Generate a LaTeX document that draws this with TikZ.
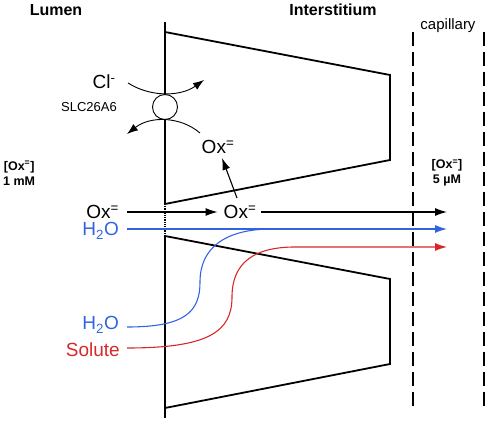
\documentclass[tikz,border=0pt]{standalone}
\usepackage{fontspec}
\setmainfont{Liberation Sans}
\usepackage{xcolor}
\usepackage{tikz}
\usetikzlibrary{arrows.meta, positioning, calc}
\definecolor{waterblue}{RGB}{50, 100, 225}
\definecolor{soluter}{RGB}{215, 40, 40}

\begin{document}
\begin{tikzpicture}[x=1pt, y=-1pt,
    wall/.style={line width=1.8pt},
    arr/.style={line width=1.1pt, -{Latex[length=12pt, width=8pt]}},
    swap/.style={line width=0.9pt, -{Latex[length=11pt, width=8pt]}},
    big/.style={font=\fontsize{19}{21}\selectfont, inner sep=0pt},
    head/.style={font=\fontsize{16}{18}\selectfont\bfseries, inner sep=0pt},
    conc/.style={font=\fontsize{12.5}{15}\selectfont\bfseries, align=center, inner sep=0pt}]
    \useasboundingbox (0,0) rectangle (488,422);

    % Headings
    \node[head] (lumen) at (56,10) {Lumen};
    \node[head] (inter) at (333,10) {Interstitium};
    \node[font=\fontsize{15}{17}\selectfont, inner sep=0pt] (cap) at (448,26) {capillary};
    \node[conc, anchor=west] (cl1) at (3,173) {[Ox\textsuperscript{=}]\\1 mM};
    \node[conc] (cl5) at (447,173) {[Ox\textsuperscript{=}]\\5 µM};

    % Membrane with paracellular gap
    \draw[wall] (165,22) -- (165,204);
    \draw[wall] (165,236) -- (165,418);
    \draw[line width=1.2pt, densely dotted] (165,204) -- (165,236);

    % Cells
    \draw[wall, line join=miter] (165,32) -- (390,75) -- (390,160) -- (165,204);
    \draw[wall, line join=miter] (165,236) -- (390,279) -- (390,364) -- (165,408);

    % Capillary walls
    \draw[wall, dash pattern=on 14pt off 6pt] (413,32) -- (413,412);
    \draw[wall, dash pattern=on 14pt off 6pt] (484,32) -- (484,412);

    % SLC26A6 exchanger
    \node[draw, circle, line width=0.9pt, fill=white, minimum size=25pt, inner sep=0pt] (slc) at (165,107) {};
    \node[big] (cl) at (104,82) {Cl\textsuperscript{-}};
    \node[font=\fontsize{13}{15}\selectfont, inner sep=0pt] (slcl) at (89,107) {SLC26A6};
    \node[big] (oxt) at (218,147) {Ox\textsuperscript{=}};
    \coordinate (clin) at (128,83);
    \coordinate (clout) at (204,80);
    \coordinate (oxin) at (200,133);
    \coordinate (oxout) at (127,134);
    \draw[swap] (clin) .. controls (150,97) and (180,97) .. (clout);
    \draw[swap] (oxin) .. controls (180,116) and (150,116) .. (oxout);

    % Paracellular flows
    \node[big, anchor=east] (oxl) at (119,212) {Ox\textsuperscript{=}};
    \node[big] (oxm) at (240,212) {Ox\textsuperscript{=}};
    \node[big, anchor=east, text=waterblue] (h2ot) at (119,231) {H\textsubscript{2}O};
    \node[big, anchor=east, text=waterblue] (h2ob) at (119,325) {H\textsubscript{2}O};
    \node[big, anchor=east, text=soluter] (sol) at (120,350) {Solute};
    \coordinate (oxend) at (447,212);
    \coordinate (blueend) at (447,229);
    \coordinate (redend) at (447,247);
    \coordinate (bluejoin) at (272,229);
    \coordinate (oxup) at (237,198);

    \draw[arr, shorten >=6pt] ([xshift=8pt]oxl.east |- 0,212) -- (oxm.west |- 0,212);
    \draw[arr] ([xshift=5pt]oxm.east |- 0,212) -- (oxend);
    \draw[arr] (oxup) -- ([xshift=4pt, yshift=-4pt]oxt.south);
    \draw[arr, waterblue] ([xshift=8pt]h2ot.east |- 0,229) -- (blueend);
    \draw[line width=1.1pt, waterblue] ([xshift=8pt]h2ob.east |- 0,327)
        .. controls (185,327) and (200,312) .. (200,282)
        .. controls (200,248) and (225,229) .. (bluejoin);
    \draw[arr, soluter] ([xshift=7pt]sol.east |- 0,348)
        .. controls (208,348) and (232,332) .. (232,297)
        .. controls (232,262) and (255,247) .. (295,247) -- (redend);
\end{tikzpicture}
\end{document}
